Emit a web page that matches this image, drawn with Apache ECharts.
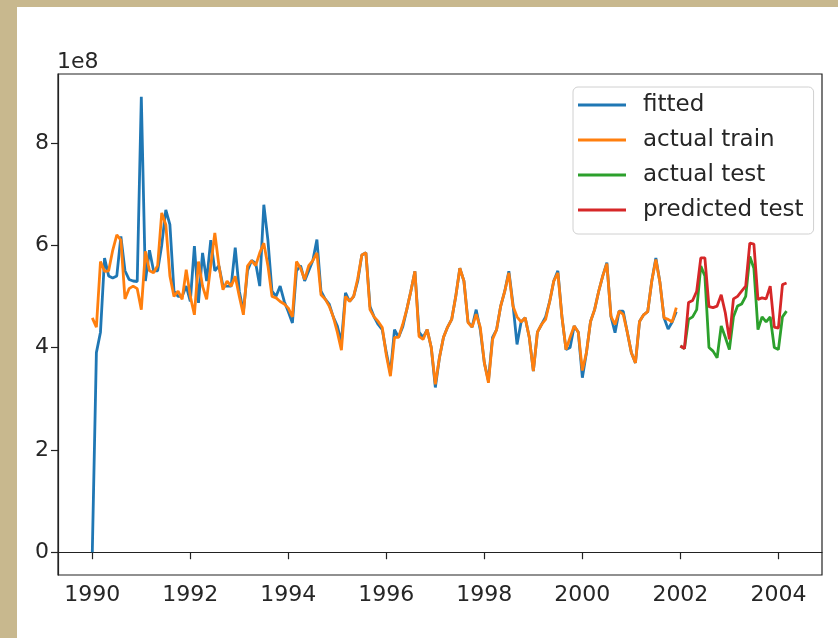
<!DOCTYPE html>
<html><head><meta charset="utf-8">
<script src="https://cdn.jsdelivr.net/npm/echarts@6/dist/echarts.min.js"></script>
<style>html,body{margin:0;padding:0;background:#fff}#c{width:838px;height:638px}</style>
</head><body><div id="c"></div>
<script>
// values in units of 1e8
const trainStartYear = 1990; // monthly from Jan 1990 to Dec 2001
const testStartYear = 2002;  // monthly from Jan 2002 to Mar 2004
const actualTrain = [
  4.58, 4.40, 5.68, 5.49, 5.50, 5.90, 6.20, 6.10, 4.95, 5.15, 5.20, 5.15,
  4.74, 5.88, 5.50, 5.46, 5.60, 6.63, 6.40, 5.40, 5.00, 5.10, 4.94, 5.52,
  5.00, 4.64, 5.68, 5.20, 4.94, 5.60, 6.24, 5.60, 5.13, 5.30, 5.20, 5.39,
  5.00, 4.64, 5.59, 5.70, 5.60, 5.85, 6.04, 5.60, 5.00, 4.97, 4.90, 4.85,
  4.77, 4.60, 5.68, 5.55, 5.33, 5.60, 5.70, 5.85, 5.03, 4.95, 4.81, 4.60,
  4.30, 3.95, 5.00, 4.90, 5.00, 5.35, 5.81, 5.85, 4.74, 4.60, 4.51, 4.39,
  3.85, 3.44, 4.20, 4.20, 4.45, 4.74, 5.10, 5.49, 4.22, 4.16, 4.35, 4.00,
  3.28, 3.80, 4.20, 4.40, 4.55, 5.00, 5.55, 5.30, 4.49, 4.40, 4.65, 4.40,
  3.70, 3.31, 4.16, 4.35, 4.81, 5.10, 5.46, 4.81, 4.60, 4.50, 4.58, 4.20,
  3.54, 4.30, 4.45, 4.55, 4.90, 5.30, 5.46, 4.60, 3.96, 4.20, 4.42, 4.30,
  3.55, 3.90, 4.51, 4.74, 5.10, 5.40, 5.64, 4.61, 4.45, 4.71, 4.65, 4.30,
  3.90, 3.70, 4.51, 4.64, 4.70, 5.30, 5.72, 5.27, 4.58, 4.55, 4.50, 4.78
];
const fitted = [
  0.00, 3.90, 4.30, 5.75, 5.40, 5.36, 5.40, 6.17, 5.50, 5.33, 5.30, 5.29,
  8.90, 5.30, 5.90, 5.50, 5.50, 6.00, 6.69, 6.40, 5.10, 5.00, 5.00, 5.20,
  4.90, 5.98, 4.87, 5.85, 5.30, 6.10, 5.50, 5.60, 5.20, 5.20, 5.20, 5.95,
  5.10, 4.70, 5.50, 5.70, 5.65, 5.20, 6.79, 6.10, 5.10, 5.00, 5.20, 4.90,
  4.70, 4.48, 5.50, 5.60, 5.30, 5.50, 5.70, 6.11, 5.10, 4.95, 4.85, 4.60,
  4.42, 4.10, 5.07, 4.90, 5.00, 5.30, 5.81, 5.85, 4.80, 4.60, 4.45, 4.35,
  3.90, 3.50, 4.35, 4.20, 4.40, 4.74, 5.10, 5.49, 4.30, 4.20, 4.35, 4.00,
  3.22, 3.80, 4.20, 4.40, 4.55, 5.00, 5.55, 5.30, 4.50, 4.40, 4.74, 4.35,
  3.70, 3.35, 4.20, 4.35, 4.81, 5.10, 5.49, 4.85, 4.06, 4.50, 4.58, 4.20,
  3.54, 4.30, 4.45, 4.60, 4.90, 5.30, 5.50, 4.60, 3.96, 4.00, 4.42, 4.30,
  3.41, 3.90, 4.51, 4.74, 5.10, 5.40, 5.66, 4.61, 4.29, 4.71, 4.71, 4.30,
  3.90, 3.70, 4.51, 4.64, 4.70, 5.30, 5.75, 5.27, 4.58, 4.36, 4.50, 4.70
];
const actualTest = [
  4.03, 3.98, 4.55, 4.60, 4.74, 5.59, 5.40, 4.00, 3.93, 3.80, 4.42, 4.20,
  3.96, 4.60, 4.81, 4.85, 5.00, 5.78, 5.55, 4.35, 4.60, 4.50, 4.60, 4.00,
  3.96, 4.60, 4.71
];
const predictedTest = [
  4.03, 3.98, 4.88, 4.92, 5.10, 5.75, 5.75, 4.80, 4.78, 4.81, 5.03, 4.68,
  4.16, 4.95, 5.00, 5.10, 5.20, 6.04, 6.02, 4.94, 4.97, 4.95, 5.20, 4.40,
  4.38, 5.23, 5.26
];
const xTicks = [1990, 1992, 1994, 1996, 1998, 2000, 2002, 2004];
const yTicks = [0, 2, 4, 6, 8];
const seriesNames = ['fitted', 'actual train', 'actual test', 'predicted test'];

function toPairs(startYear, vals) {
  return vals.map((v, i) => [startYear + i / 12, v]);
}

const font = 'DejaVu Sans';
const txt = '#262626';
const chart = echarts.init(document.getElementById('c'), null, {renderer: 'canvas'});
chart.setOption({
  animation: false,
  backgroundColor: '#ffffff',
  color: ['#1f77b4', '#ff7f0e', '#2ca02c', '#d62728'],
  grid: {left: 58, right: 16, top: 74, bottom: 63, show: true, borderColor: '#222', borderWidth: 1.2, backgroundColor: 'transparent'},
  graphic: [
    {type: 'rect', left: 0, top: 0, shape: {width: 838, height: 7}, style: {fill: '#c8b88e'}, silent: true},
    {type: 'rect', left: 0, top: 0, shape: {width: 17, height: 638}, style: {fill: '#c8b88e'}, silent: true},
    {type: 'text', left: 57, top: 51, style: {text: '1e8', font: '22px "DejaVu Sans"', fill: txt}, silent: true}
  ],
  legend: {
    orient: 'vertical', left: 573, top: 87,
    data: seriesNames,
    icon: 'rect', itemWidth: 48, itemHeight: 3, itemGap: 11,
    padding: [6, 10, 12, 5],
    textStyle: {fontSize: 23, lineHeight: 24, color: txt, fontFamily: font, padding: [0, 0, 0, 12]},
    borderColor: '#d0d0d0', borderWidth: 1, borderRadius: 5,
    backgroundColor: 'rgba(255,255,255,0.85)'
  },
  xAxis: {
    type: 'value', min: 1989.30, max: 2004.89,
    splitLine: {show: false},
    axisLine: {show: true, lineStyle: {color: '#222', width: 1.2}},
    axisTick: {show: true, length: 7, customValues: xTicks, lineStyle: {color: '#222', width: 1.2}},
    axisLabel: {customValues: xTicks, formatter: v => String(Math.round(v)), fontSize: 22, color: txt, fontFamily: font, margin: 9}
  },
  yAxis: {
    type: 'value', min: -0.445, max: 9.345,
    splitLine: {show: false},
    axisLine: {show: true, lineStyle: {color: '#222', width: 1.2}},
    axisTick: {show: true, length: 7, customValues: yTicks, lineStyle: {color: '#222', width: 1.2}},
    axisLabel: {customValues: yTicks, formatter: v => String(Math.round(v)), fontSize: 22, color: txt, fontFamily: font, margin: 9}
  },
  series: [
    {name: 'fitted', type: 'line', data: toPairs(trainStartYear, fitted), showSymbol: false, lineStyle: {width: 2.8}, z: 2},
    {name: 'actual train', type: 'line', data: toPairs(trainStartYear, actualTrain), showSymbol: false, lineStyle: {width: 2.8}, z: 3},
    {name: 'actual test', type: 'line', data: toPairs(testStartYear, actualTest), showSymbol: false, lineStyle: {width: 2.8}, z: 4},
    {name: 'predicted test', type: 'line', data: toPairs(testStartYear, predictedTest), showSymbol: false, lineStyle: {width: 2.8}, z: 5}
  ]
});
</script></body></html>
